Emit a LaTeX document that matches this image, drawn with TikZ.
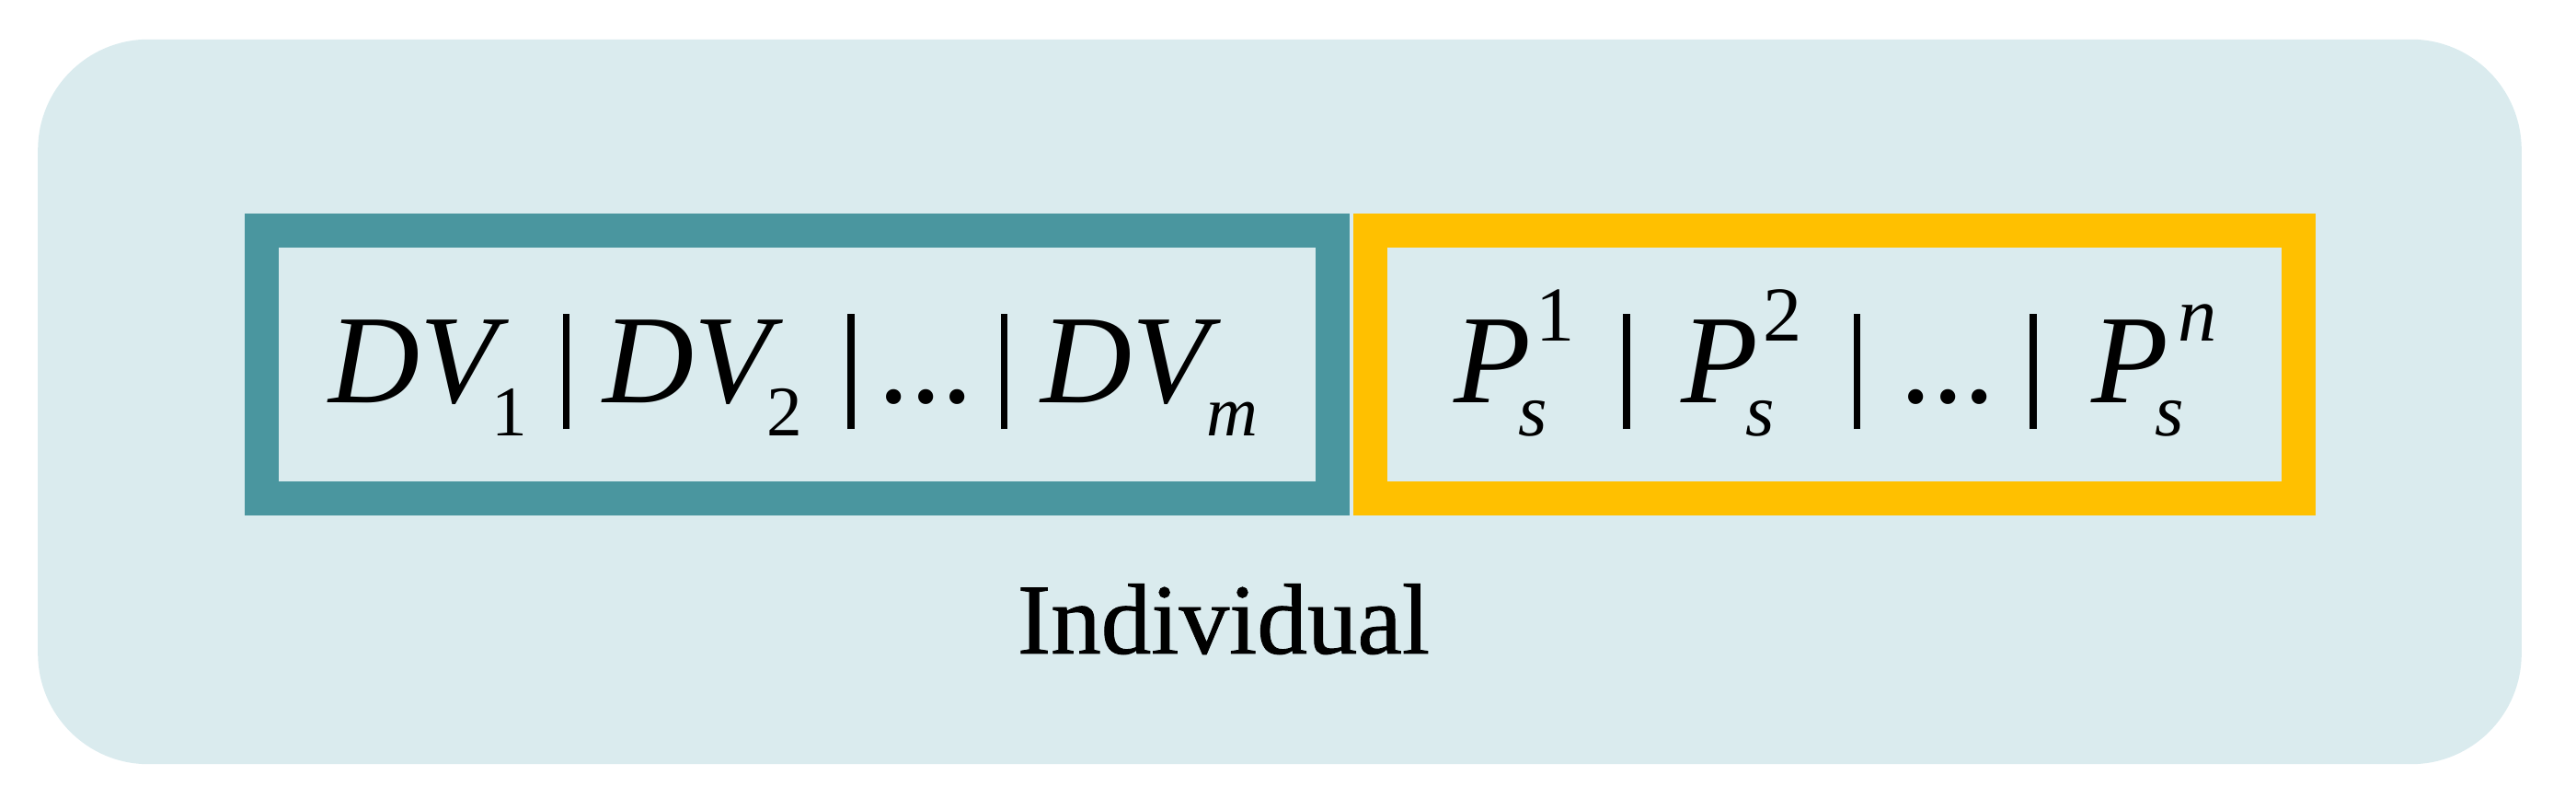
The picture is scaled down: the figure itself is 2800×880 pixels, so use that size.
\documentclass[tikz,border=0pt]{standalone}
\usepackage{fontspec}
\setmainfont{Liberation Serif}
\newfontfamily\lblfont[FakeBold=0.8]{Liberation Serif}
\definecolor{bgc}{HTML}{DAEBEE}
\definecolor{tealc}{HTML}{4A969F}
\definecolor{goldc}{HTML}{FFC000}
\newcommand\scr{\fontsize{22}{22}\selectfont}
\newcommand\scrs{\fontsize{23}{23}\selectfont}
\newcommand\scrb{\fontsize{24}{24}\selectfont}
\newcommand\lowx[1]{\raisebox{-10pt}{\scr #1}}
\newcommand\lows[1]{\raisebox{-10pt}{\scrs #1}}
\newcommand\highx[1]{\raisebox{19.3pt}{\scrb #1}}
\newcommand\vb{\makebox[8pt]{\rule[-0.28cm]{0.075cm}{1.25cm}}}
\newcommand\dts{{\upshape...}}
\newcommand\pss[2]{\kern-4pt\rlap{\lows{s}}\kern#1\highx{#2}}
\begin{document}
\begin{tikzpicture}[x=0.01cm,y=-0.01cm,
  frame/.style={draw,line width=0.37cm,inner sep=0pt,minimum height=2.91cm},
  formula/.style={anchor=base,inner sep=0pt,font=\fontsize{39}{46}\selectfont\itshape}]
\useasboundingbox (0,0) rectangle (2800,880);
\node (ind) [fill=bgc,rounded corners=1.2cm,minimum width=26.98cm,minimum height=7.87cm,inner sep=0pt] at (1391,436.5) {};
\node (dv) [frame,draw=tealc,minimum width=11.64cm] at (866.5,396) {};
\node (ps) [frame,draw=goldc,minimum width=10.08cm] at (1994,396) {};
\node (f1) [formula] at (862,438) {DV\kern-1.5pt\lowx{\upshape 1}\hspace{8pt}\vb\hspace{7.5pt}DV\kern-1.5pt\lowx{\upshape 2}\hspace{11pt}\vb\hspace{4.5pt}\dts\hspace{5.6pt}\vb\hspace{7.5pt}DV\kern-1pt\lowx{m}};
\node (f2) [formula] at (1995,438) {P\pss{5.5pt}{\upshape 1}\hspace{12pt}\vb\hspace{13pt}P\pss{5.5pt}{\upshape 2}\hspace{13pt}\vb\hspace{9.4pt}\dts\hspace{7.7pt}\vb\hspace{14pt}P\pss{7pt}{n}};
\node (lbl) [anchor=base,inner sep=0pt,font=\fontsize{31}{36}\selectfont\lblfont] at (1330,710) {Individual};
\end{tikzpicture}
\end{document}
